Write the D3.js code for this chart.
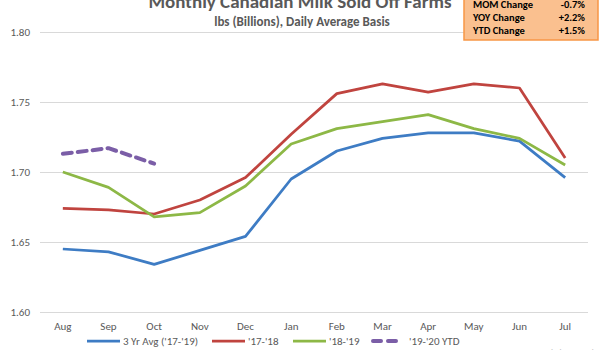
<!DOCTYPE html>
<html>
<head>
<meta charset="utf-8">
<script src="https://cdn.jsdelivr.net/npm/d3@7"></script>
<style>
  html, body { margin: 0; padding: 0; background: #fff; }
  svg { display: block; font-family: Calibri, "Open Sans", "Liberation Sans", sans-serif; }
</style>
</head>
<body>
<script>
// data
const months = ["Aug", "Sep", "Oct", "Nov", "Dec", "Jan", "Feb", "Mar", "Apr", "May", "Jun", "Jul"];
const avg3yr = [1.645, 1.643, 1.634, 1.644, 1.654, 1.695, 1.715, 1.724, 1.728, 1.728, 1.722, 1.696];
const y1718 = [1.674, 1.673, 1.670, 1.680, 1.696, 1.727, 1.756, 1.763, 1.757, 1.763, 1.760, 1.710];
const y1819 = [1.700, 1.689, 1.668, 1.671, 1.690, 1.720, 1.731, 1.736, 1.741, 1.731, 1.724, 1.705];
const y1920 = [1.713, 1.717, 1.706];
const yTicks = [1.60, 1.65, 1.70, 1.75, 1.80];
const boxRows = ["MOM Change", "YOY Change", "YTD Change"];
const boxVals = ["-0.7%", "+2.2%", "+1.5%"];

const series = [
  {name: "3 Yr Avg ('17-'19)", values: avg3yr, color: "#3E7CC4", dash: null, w: 2.75},
  {name: "'17-'18", values: y1718, color: "#C0443F", dash: null, w: 2.75},
  {name: "'18-'19", values: y1819, color: "#8DB846", dash: null, w: 2.75},
  {name: "'19-'20 YTD", values: y1920, color: "#7B5EA7", dash: "9,6", w: 4}
];

const width = 600, height = 350;
const margin = {top: 32, right: 12, bottom: 38, left: 40};
const innerWidth = width - margin.left - margin.right;
const innerHeight = height - margin.top - margin.bottom;

const svg = d3.select("body").append("svg")
  .attr("width", width)
  .attr("height", height)
  .attr("viewBox", `0 0 ${width} ${height}`);

const x = d3.scaleBand()
  .domain(months)
  .range([0, innerWidth]);

const y = d3.scaleLinear()
  .domain([1.60, 1.80])
  .range([innerHeight, 0]);

const g = svg.append("g")
  .attr("transform", `translate(${margin.left}, ${margin.top})`);

// gridlines + y labels
const yAxis = d3.axisLeft(y)
  .tickValues(yTicks)
  .tickSize(-innerWidth)
  .tickPadding(10)
  .tickFormat(d3.format(".2f"));

g.append("g")
  .attr("class", "yAxis")
  .call(yAxis)
  .attr("font-family", null)
  .call(a => a.select(".domain").remove())
  .call(a => a.selectAll("line").attr("stroke", "#d9d9d9").attr("stroke-width", 1))
  .call(a => a.selectAll("text").attr("fill", "#595959").style("font-size", "11px"));

// x labels
const xAxis = d3.axisBottom(x).tickSize(0).tickPadding(10);
g.append("g")
  .attr("transform", `translate(0, ${innerHeight})`)
  .call(xAxis)
  .attr("font-family", null)
  .call(a => a.select(".domain").remove())
  .call(a => a.selectAll("text").attr("fill", "#595959").style("font-size", "11px"));

// lines
const line = d3.line()
  .x((d, i) => x(months[i]) + x.bandwidth() / 2)
  .y(d => y(d));

g.selectAll("path.series")
  .data(series)
  .join("path")
  .attr("class", "series")
  .attr("fill", "none")
  .attr("stroke", d => d.color)
  .attr("stroke-width", d => d.w)
  .attr("stroke-dasharray", d => d.dash)
  .attr("stroke-linecap", d => d.dash ? "round" : "butt")
  .attr("stroke-linejoin", "round")
  .attr("d", d => line(d.values));

// title (top of it runs off the picture, as in the original)
svg.append("text")
  .attr("x", 300).attr("y", 8)
  .attr("text-anchor", "middle")
  .attr("fill", "#595959")
  .style("font-size", "19px")
  .style("font-weight", "bold")
  .text("Monthly Canadian Milk Sold Off Farms");

svg.append("text")
  .attr("x", 302).attr("y", 26)
  .attr("text-anchor", "middle")
  .attr("fill", "#595959")
  .style("font-size", "13px")
  .style("font-weight", "bold")
  .text("lbs (Billions), Daily Average Basis");

// orange box
const box = svg.append("g").attr("transform", "translate(464, -4)");
box.append("rect")
  .attr("width", 134).attr("height", 44)
  .attr("fill", "#FAC08F")
  .attr("stroke", "#F79646")
  .attr("stroke-width", 1.5);
box.selectAll("text.lbl")
  .data(boxRows)
  .join("text")
  .attr("class", "lbl")
  .attr("x", 9)
  .attr("y", (d, i) => 12 + i * 13)
  .attr("fill", "#000")
  .style("font-size", "10.5px")
  .style("font-weight", "bold")
  .text(d => d);
box.selectAll("text.val")
  .data(boxVals)
  .join("text")
  .attr("class", "val")
  .attr("x", 121)
  .attr("y", (d, i) => 12 + i * 13)
  .attr("text-anchor", "end")
  .attr("fill", "#000")
  .style("font-size", "10.5px")
  .style("font-weight", "bold")
  .text(d => d);

// legend
const legendX = [87, 212, 293, 373];
const legend = svg.append("g");
series.forEach((s, i) => {
  const lg = legend.append("g").attr("transform", `translate(${legendX[i]}, 341)`);
  lg.append("line")
    .attr("x1", 0).attr("x2", s.dash ? 28 : 33)
    .attr("stroke", s.color)
    .attr("stroke-width", s.dash ? 4 : 2.75)
    .attr("stroke-linecap", s.dash ? "round" : "butt")
    .attr("stroke-dasharray", s.dash ? "8,7" : null);
  lg.append("text")
    .attr("x", 36)
    .attr("y", 4)
    .attr("fill", "#595959")
    .style("font-size", "11px")
    .text(s.name);
});

// source note, mostly below the bottom edge as in the original
svg.append("text")
  .attr("x", 598).attr("y", 355)
  .attr("text-anchor", "end")
  .attr("fill", "#bfbfbf")
  .style("font-size", "9px")
  .text("Source: Statistics Canada");
</script>
</body>
</html>
